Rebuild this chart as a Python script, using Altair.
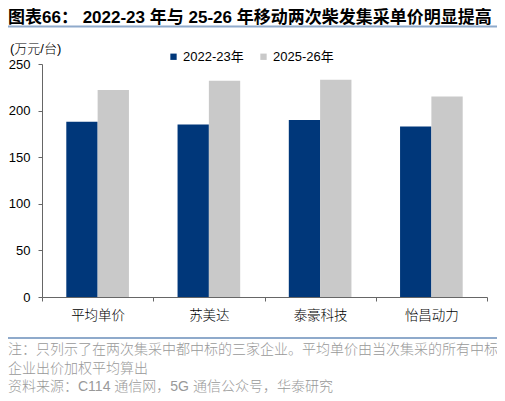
import altair as alt
import pandas as pd

categories = ["平均单价", "苏美达", "泰豪科技", "怡昌动力"]
series = ["2022-23年", "2025-26年"]
values_2223 = [188, 185, 190, 183]
values_2526 = [222, 232, 233, 215]
y_ticks = [0, 50, 100, 150, 200, 250]

title_text = "图表66：  2022-23 年与 25-26 年移动两次柴发集采单价明显提高"
unit_text = "(万元/台)"
notes = [
    "注：只列示了在两次集采中都中标的三家企业。平均单价由当次集采的所有中标",
    "企业出价加权平均算出",
    "资料来源：C114 通信网，5G 通信公众号，华泰研究",
]

NAVY = "#00377a"
GRAY = "#c9c9c9"
FONT = "Liberation Sans, Arial, Noto Sans CJK SC"

rows = []
for c, a, b in zip(categories, values_2223, values_2526):
    rows.append({"cat": c, "series": series[0], "value": a})
    rows.append({"cat": c, "series": series[1], "value": b})
df = pd.DataFrame(rows)

bars = alt.Chart(df).mark_bar().encode(
    x=alt.X("cat:N", sort=categories,
            scale=alt.Scale(paddingInner=0, paddingOuter=0),
            axis=alt.Axis(title=None, labelAngle=0, tickBand="extent",
                          tickSize=4, tickColor="#666666", domainColor="#666666",
                          labelFont=FONT, labelFontSize=13.5, labelColor="#000000",
                          labelFontWeight=300, labelPadding=7)),
    xOffset=alt.XOffset("series:N", sort=series,
                        scale=alt.Scale(paddingInner=0, paddingOuter=0.776)),
    y=alt.Y("value:Q", scale=alt.Scale(domain=[0, 250], nice=False),
            axis=alt.Axis(title=None, values=y_ticks, grid=False, tickSize=4,
                          tickColor="#666666", domainColor="#666666",
                          labelFont=FONT, labelFontSize=13, labelColor="#000000",
                          labelPadding=8)),
    color=alt.Color("series:N", sort=series,
                    scale=alt.Scale(domain=series, range=[NAVY, GRAY]),
                    legend=alt.Legend(title=None, orient="none", legendX=125, legendY=-14,
                                      direction="horizontal", symbolType="square",
                                      symbolSize=40, symbolStrokeWidth=0,
                                      labelFont=FONT, labelFontSize=13, labelColor="#000000",
                                      labelOffset=3, columnPadding=13, padding=0)),
)

title = alt.Chart(pd.DataFrame({"t": [title_text]})).mark_text(
    align="left", baseline="alphabetic", font=FONT, fontSize=17, fontWeight="bold", color="#000000"
).encode(text="t:N", x=alt.value(-34), y=alt.value(-41.5))

unit = alt.Chart(pd.DataFrame({"t": [unit_text]})).mark_text(
    align="left", baseline="alphabetic", font=FONT, fontSize=13, fontWeight=300, color="#000000"
).encode(text="t:N", x=alt.value(-32), y=alt.value(-11.5))

top_rule = alt.Chart(pd.DataFrame({"a": [0]})).mark_rule(color="#8faacb", strokeWidth=2).encode(
    x=alt.value(-34), x2=alt.value(460), y=alt.value(-37.5))
bottom_rule = alt.Chart(pd.DataFrame({"a": [0]})).mark_rule(color="#8faacb", strokeWidth=2).encode(
    x=alt.value(-34), x2=alt.value(460), y=alt.value(274))

note_layers = []
for txt, yy in zip(notes, [290, 308.5, 327]):
    note_layers.append(
        alt.Chart(pd.DataFrame({"t": [txt]})).mark_text(
            align="left", baseline="alphabetic", font=FONT, fontSize=14, fontWeight=300,
            color="#999999"
        ).encode(text="t:N", x=alt.value(-34), y=alt.value(yy))
    )

chart = alt.layer(bars, title, unit, top_rule, bottom_rule, *note_layers).properties(
    width=445, height=233,
    padding={"left": 34, "top": 56, "right": 10, "bottom": 96},
    autosize=alt.AutoSizeParams(type="none"),
).configure_view(stroke=None)

chart.save("out.html", embed_options={"renderer": "svg", "actions": False})
